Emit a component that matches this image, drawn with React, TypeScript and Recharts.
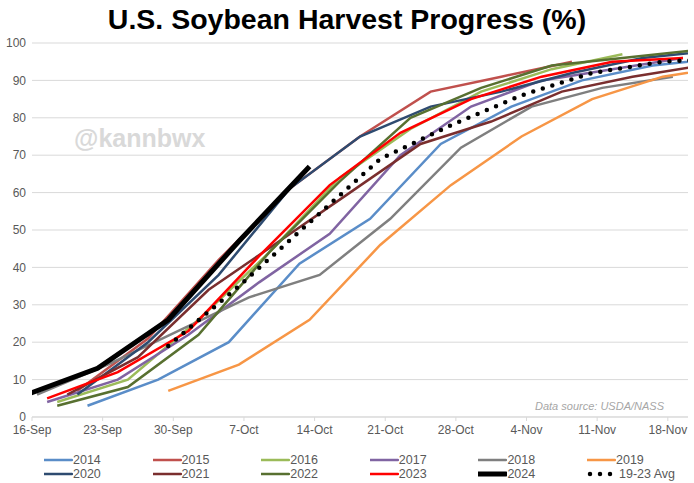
import React from "react";
import { LineChart, Line, XAxis, YAxis, CartesianGrid } from "recharts";

// week-ending dates (first week of each season) and % harvested
const years = ["2014", "2015", "2016", "2017", "2018", "2019", "2020", "2021", "2022", "2023", "2024"];
const firstWeek = ["09-21", "09-20", "09-18", "09-17", "09-16", "09-29", "09-20", "09-19", "09-18", "09-17", "09-15"];

const p2014 = [3, 10, 20, 41, 53, 73, 83, 90, 94, 96];
const p2015 = [7, 21, 42, 61, 75, 87, 91, 95];
const p2016 = [4, 10, 26, 44, 64, 77, 87, 93, 97];
const p2017 = [4, 10, 22, 36, 49, 70, 83, 90, 93, 96];
const p2018 = [6, 14, 23, 32, 38, 53, 72, 83, 88, 91];
const p2019 = [7, 14, 26, 46, 62, 75, 85, 91, 94];
const p2020 = [6, 20, 38, 61, 75, 83, 87, 92, 96, 98];
const p2021 = [6, 16, 34, 47, 60, 73, 79, 87, 91, 94];
const p2022 = [3, 8, 22, 44, 63, 80, 88, 94, 96, 98];
const p2023 = [5, 12, 23, 43, 62, 76, 85, 91, 95, 96];
const p2024 = [6, 13, 26, 47, 67];

const avgLabel = "19-23 Avg";
const avgFirstWeek = "09-29";
const pAvg = [19, 35, 52, 69, 78, 86, 92, 95, 96];

const xLabels = ["16-Sep", "23-Sep", "30-Sep", "7-Oct", "14-Oct", "21-Oct", "28-Oct", "4-Nov", "11-Nov", "18-Nov"];
const yTicks = [0, 10, 20, 30, 40, 50, 60, 70, 80, 90, 100];

const values = [p2014, p2015, p2016, p2017, p2018, p2019, p2020, p2021, p2022, p2023, p2024];

const COLORS = [
  "#5A8DC8", "#C0504D", "#9BBB59", "#8064A2", "#7F7F7F", "#F79646",
  "#2E4B70", "#7A2E2E", "#587030", "#FF0000", "#000000",
];

// days since 16-Sep (month/day only), points sit mid-day
const dayOf = (md: string) => {
  const [m, d] = md.split("-").map(Number);
  return (Date.UTC(2023, m - 1, d) - Date.UTC(2023, 8, 16)) / 86400000;
};
const toPoints = (first: string, vals: number[]) =>
  vals.map((y, i) => ({ x: dayOf(first) + 0.5 + 7 * i, y }));

const series = years.map((yr, i) => ({
  name: yr,
  color: COLORS[i],
  width: yr === "2024" ? 5 : 2.5,
  data: toPoints(firstWeek[i], values[i]),
}));
const avgData = toPoints(avgFirstWeek, pAvg);

const xTicks = xLabels.map((_, i) => i * 7);
const FONT = '"Liberation Sans", Arial, sans-serif';

function LegendBox() {
  const items = [...series.map((s) => ({ name: s.name, color: s.color, width: s.width, dots: false })),
    { name: avgLabel, color: "#000", width: 4.5, dots: true }];
  return (
    <div style={{ position: "absolute", left: 0, top: 453, width: 694 }}>
      {items.map((it, i) => {
        const col = i % 6;
        const row = Math.floor(i / 6);
        return (
          <div
            key={it.name}
            style={{
              position: "absolute",
              left: 44 + col * 108.6,
              top: row * 14,
              height: 14,
              display: "flex",
              alignItems: "center",
              fontSize: 12.5,
              color: "#595959",
              whiteSpace: "nowrap",
            }}
          >
            <svg width={29} height={14}>
              {it.dots ? (
                <line x1={3} x2={27} y1={7} y2={7} stroke="#000" strokeWidth={4.5}
                  strokeDasharray="0 10" strokeLinecap="round" />
              ) : (
                <line x1={0} x2={28} y1={7} y2={7} stroke={it.color} strokeWidth={it.width}
                  strokeLinecap="round" />
              )}
            </svg>
            <span style={{ marginLeft: it.dots ? 3 : 0 }}>{it.name}</span>
          </div>
        );
      })}
    </div>
  );
}

export default function App() {
  return (
    <div style={{ position: "absolute", left: 0, top: 0, width: 694, height: 483, background: "#fff", fontFamily: FONT }}>
      <div style={{ position: "absolute", top: 0, width: 694, textAlign: "center", fontWeight: "bold", fontSize: 28.5, lineHeight: "38px", color: "#000" }}>
        U.S. Soybean Harvest Progress (%)
      </div>
      <div style={{ position: "absolute", left: 74, top: 126, fontSize: 25, lineHeight: 1, fontWeight: "bold", color: "#D9D9D9" }}>
        @kannbwx
      </div>
      <LineChart width={694} height={483} margin={{ top: 43, right: 6, bottom: 36, left: 0 }}>
        <CartesianGrid vertical={false} stroke="#D9D9D9" />
        <XAxis
          type="number"
          dataKey="x"
          domain={[0, 65]}
          allowDataOverflow
          ticks={xTicks}
          tickFormatter={(v: number) => xLabels[Math.round(v / 7)] ?? ""}
          height={30}
          tickSize={4}
          tickMargin={4}
          stroke="#D9D9D9"
          tick={{ fill: "#595959", fontSize: 12, fontFamily: FONT }}
          interval={0}
        />
        <YAxis
          type="number"
          domain={[0, 100]}
          ticks={yTicks}
          width={32}
          axisLine={false}
          tickLine={false}
          tickSize={0}
          tickMargin={6}
          interval={0}
          tick={{ fill: "#595959", fontSize: 12, fontFamily: FONT }}
        />
        {series.map((s) => (
          <Line
            key={s.name}
            data={s.data}
            dataKey="y"
            name={s.name}
            type="linear"
            stroke={s.color}
            strokeWidth={s.width}
            dot={false}
            activeDot={false}
            isAnimationActive={false}
          />
        ))}
        <Line
          data={avgData}
          dataKey="y"
          name={avgLabel}
          type="linear"
          stroke="#000"
          strokeWidth={4.5}
          strokeDasharray="0 10"
          strokeLinecap="round"
          dot={false}
          activeDot={false}
          isAnimationActive={false}
        />
      </LineChart>
      <div style={{ position: "absolute", left: 535, top: 400, fontSize: 11, fontStyle: "italic", color: "#A6A6A6" }}>
        Data source: USDA/NASS
      </div>
      <LegendBox />
    </div>
  );
}
